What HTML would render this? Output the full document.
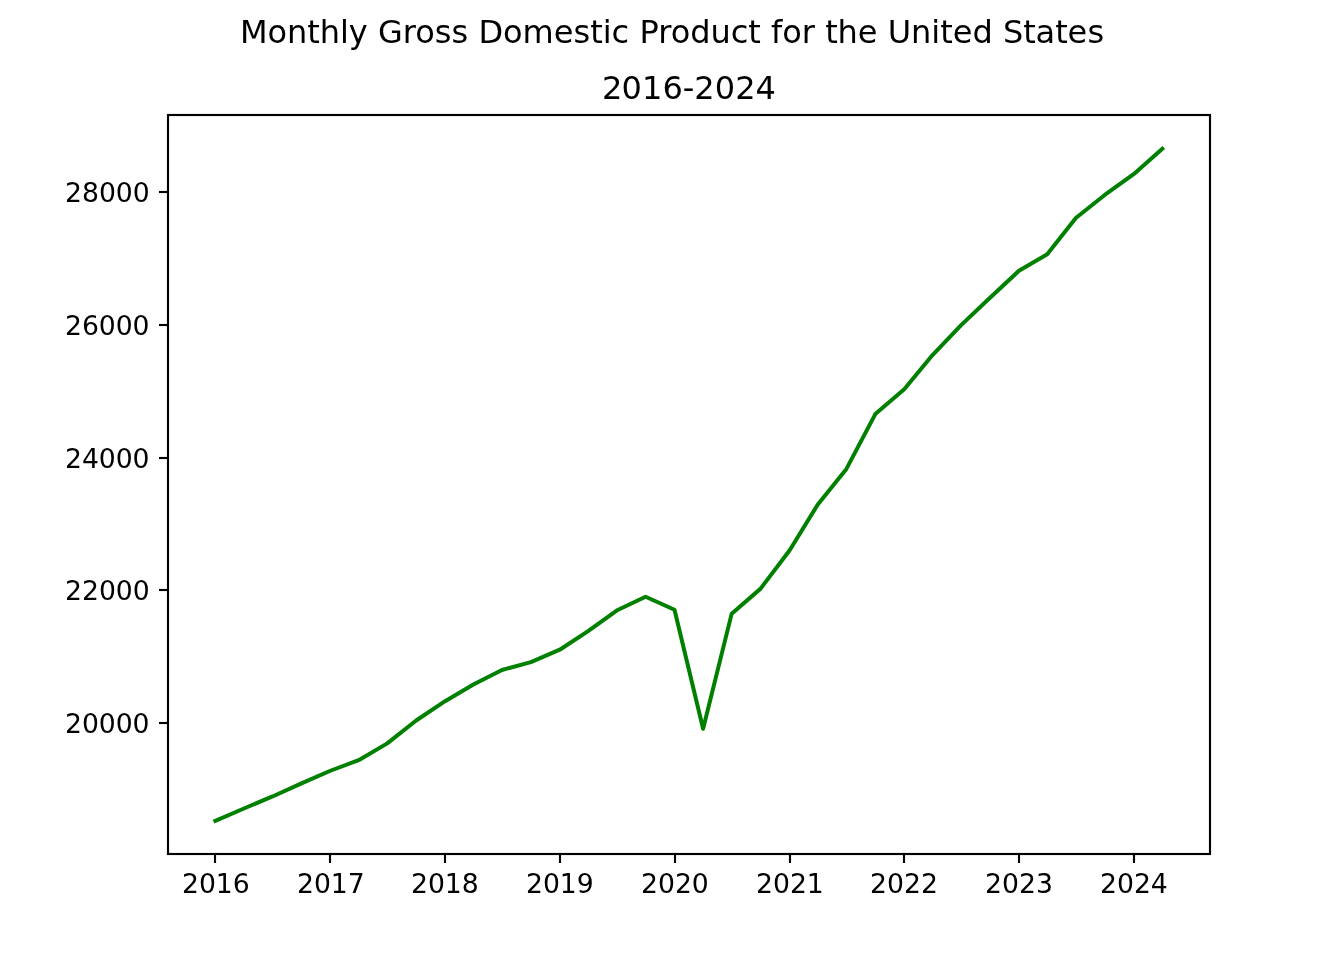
<!DOCTYPE html>
<html lang="en"><head><meta charset="utf-8"><title>Monthly Gross Domestic Product for the United States</title>
<style>
html,body{margin:0;padding:0;background:#fff;}
body{width:1344px;height:960px;overflow:hidden;}
svg{display:block;}
text{font-family:"DejaVu Sans","Liberation Sans",sans-serif;fill:#000;white-space:pre;}
.tk{font-size:26.667px;}
.tt{font-size:32px;}
</style></head><body>
<svg width="1344" height="960" viewBox="0 0 1344 960">
<rect width="1344" height="960" fill="#ffffff"/>

<g stroke="#000" stroke-width="2.1333" fill="none">
<line x1="215" y1="854" x2="215" y2="863"/>
<line x1="330" y1="854" x2="330" y2="863"/>
<line x1="445" y1="854" x2="445" y2="863"/>
<line x1="560" y1="854" x2="560" y2="863"/>
<line x1="675" y1="854" x2="675" y2="863"/>
<line x1="790" y1="854" x2="790" y2="863"/>
<line x1="904" y1="854" x2="904" y2="863"/>
<line x1="1019" y1="854" x2="1019" y2="863"/>
<line x1="1134" y1="854" x2="1134" y2="863"/>
<line x1="159" y1="723" x2="168" y2="723"/>
<line x1="159" y1="590" x2="168" y2="590"/>
<line x1="159" y1="458" x2="168" y2="458"/>
<line x1="159" y1="325" x2="168" y2="325"/>
<line x1="159" y1="192" x2="168" y2="192"/>
</g>
<text class="tk" x="181.958 198.911 215.864 232.708" y="893">2016</text>
<text class="tk" x="296.948 313.901 330.854 347.698" y="893">2017</text>
<text class="tk" x="410.968 427.921 444.874 461.718" y="893">2018</text>
<text class="tk" x="525.928 542.881 559.834 576.678" y="893">2019</text>
<text class="tk" x="640.963 657.916 674.994 691.713" y="893">2020</text>
<text class="tk" x="755.903 772.981 789.934 806.653" y="893">2021</text>
<text class="tk" x="869.983 886.936 903.889 920.983" y="893">2022</text>
<text class="tk" x="984.893 1001.971 1018.924 1035.893" y="893">2023</text>
<text class="tk" x="1099.968 1116.921 1133.999 1150.718" y="893">2024</text>
<text class="tk" x="64.967 81.921 98.874 115.717 132.421" y="733">20000</text>
<text class="tk" x="64.967 81.921 98.999 115.717 132.671" y="600">22000</text>
<text class="tk" x="64.947 81.901 98.854 115.697 132.401" y="468">24000</text>
<text class="tk" x="64.938 81.891 98.844 115.688 132.391" y="335">26000</text>
<text class="tk" x="64.947 81.901 98.979 115.697 132.651" y="202">28000</text>
<path d="M215.35 820.80 L243.94 808.47 L272.54 796.46 L301.46 783.41 L330.37 770.75 L358.65 760.23 L387.25 743.38 L416.17 720.52 L445.08 701.18 L473.36 684.43 L501.96 669.97 L530.88 662.07 L559.79 649.71 L588.08 631.08 L616.67 610.54 L645.59 596.73 L674.50 609.73 L703.10 728.74 L731.70 613.64 L760.61 588.63 L789.52 550.43 L817.81 504.49 L846.41 468.88 L875.32 414.09 L904.24 389.24 L932.52 355.05 L961.12 325.17 L990.03 297.71 L1018.95 270.82 L1047.23 254.27 L1075.83 217.96 L1104.74 194.94 L1133.66 174.23 L1162.25 148.80" fill="none" stroke="#008000" stroke-width="4" stroke-linejoin="round" stroke-linecap="square"/>
<rect x="168" y="115" width="1042" height="739" fill="none" stroke="#000" stroke-width="2.1333" stroke-linejoin="miter"/>
<text class="tt" x="601.989 621.473 641.958 662.442 682.677 694.223 714.708 735.192 755.427" y="99">2016-2024</text>
<text class="tt" x="239.885 267.494 287.073 307.229 319.776 339.932 348.698 367.885 377.91 402.707 415.16 434.738 451.41 468.082 478.38 502.896 522.474 553.771 573.458 590.13 602.677 611.443 629.161 639.385 658.244 670.698 690.151 710.463 730.744 748.213 761.01 770.95 782.216 801.669 814.95 825.2 837.497 857.653 877.466 887.66 910.957 931.238 940.129 952.676 972.488 992.801 1002.94 1023.128 1035.424 1055.159 1067.456 1087.393" y="43">Monthly Gross Domestic Product for the United States</text>
</svg>
</body></html>
